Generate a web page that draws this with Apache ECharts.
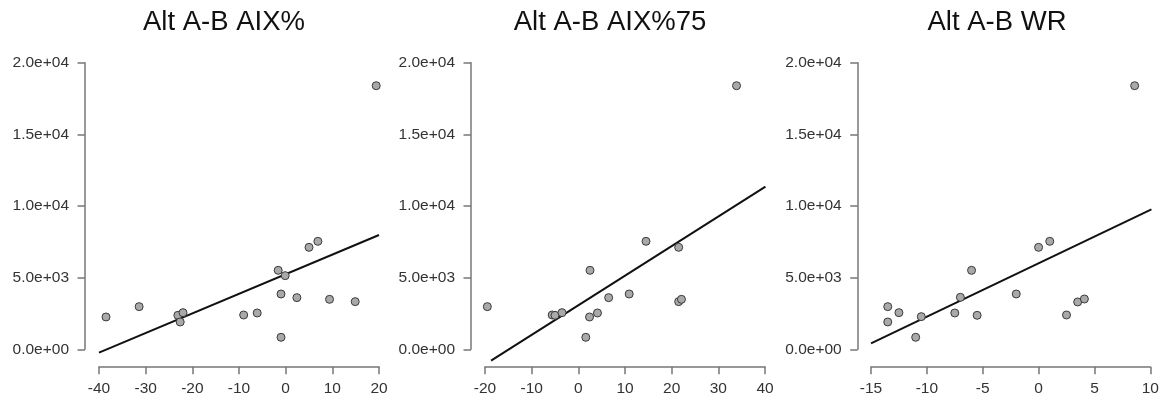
<!DOCTYPE html>
<html>
<head>
<meta charset="utf-8">
<script src="https://cdn.jsdelivr.net/npm/echarts@6/dist/echarts.min.js"></script>
<style>
html,body{margin:0;padding:0;background:#fff;}
#chart{width:1173px;height:404px;}
</style>
</head>
<body>
<div id="chart"></div>
<script>
// ---- data ----
var titles = ['Alt A-B AIX%', 'Alt A-B AIX%75', 'Alt A-B WR'];

var aixX = [-38.5, -31.4, -23.1, -22.0, -22.6, -9.0, -6.1, -1.6, -0.1, -1.0, -1.0, 2.4, 5.0, 6.9, 9.4, 14.9, 19.4];
var aixY = [2256, 2977, 2372, 2558, 1907, 2395, 2535, 5512, 5140, 3860, 837, 3605, 7116, 7535, 3488, 3326, 18395];

var aix75X = [-19.5, -5.6, -5.0, -3.5, 2.5, 2.4, 4.1, 1.6, 6.5, 10.9, 14.5, 21.5, 21.5, 22.1, 33.9];
var aix75Y = [2977, 2395, 2372, 2558, 5512, 2256, 2535, 837, 3605, 3860, 7535, 7116, 3326, 3488, 18395];

var wrX = [-13.5, -13.5, -12.5, -10.5, -11.0, -7.5, -7.0, -6.0, -5.5, -2.0, 0.0, 1.0, 2.5, 3.5, 4.1, 8.6];
var wrY = [2977, 1907, 2558, 2280, 837, 2535, 3628, 5512, 2372, 3860, 7116, 7535, 2395, 3303, 3512, 18395];

// fitted regression lines (end points)
var fitAixX = [-40, 20],      fitAixY = [-233, 7977];
var fitAix75X = [-18.7, 40.1], fitAix75Y = [-791, 11349];
var fitWrX = [-15, 10.1],     fitWrY = [419, 9767];

// axis tick ranges
var xMins = [-40, -20, -15], xMaxs = [20, 40, 10], xSteps = [10, 10, 5];
var yMin = 0, yMax = 20000, yStep = 5000;

// ---- build chart ----
function pairs(xs, ys){ var out=[]; for (var i=0;i<xs.length;i++) out.push([xs[i], ys[i]]); return out; }
function sci(v){
  var s = Number(v).toExponential(1); // e.g. 2.0e+4
  var m = s.split('e');
  var sign = m[1].charAt(0);
  var ex = m[1].slice(1);
  if (ex.length < 2) ex = '0' + ex;
  return m[0] + 'e' + sign + ex;
}

var pointsX = [aixX, aix75X, wrX], pointsY = [aixY, aix75Y, wrY];
var fitsX = [fitAixX, fitAix75X, fitWrX], fitsY = [fitAixY, fitAix75Y, fitWrY];

var gridLefts = [99, 485, 871], gridWidths = [280, 280, 279.3];
var yOffsets = [14, 14, 13.3];
var titleCenters = [219, 605, 992];
var FONT = '"Liberation Sans", Arial, Helvetica, sans-serif';

var grids=[], xAxes=[], yAxes=[], series=[], titleOpts=[];
for (var k=0;k<3;k++){
  grids.push({left: gridLefts[k], top: 62.7, width: gridWidths[k], height: 286.6, containLabel: false});
  xAxes.push({
    type: 'value', gridIndex: k, min: xMins[k], max: xMaxs[k], interval: xSteps[k],
    position: 'bottom', offset: 17.5,
    axisLine: {show: true, onZero: false, lineStyle: {color: '#777', width: 1.5}},
    axisTick: {show: true, inside: false, length: 7.5, lineStyle: {color: '#777', width: 1.5}},
    axisLabel: {color: '#333', fontSize: 15.5, fontFamily: FONT, margin: 14},
    splitLine: {show: false}
  });
  yAxes.push({
    type: 'value', gridIndex: k, min: yMin, max: yMax, interval: yStep,
    position: 'left', offset: yOffsets[k],
    axisLine: {show: true, onZero: false, lineStyle: {color: '#777', width: 1.5}},
    axisTick: {show: true, inside: false, length: 7.5, lineStyle: {color: '#777', width: 1.5}},
    axisLabel: {color: '#333', fontSize: 15.5, fontFamily: FONT, margin: 16, formatter: sci},
    splitLine: {show: false}
  });
  series.push({
    type: 'line', xAxisIndex: k, yAxisIndex: k, clip: false,
    data: pairs(fitsX[k], fitsY[k]), symbol: 'none', silent: true,
    lineStyle: {color: '#111', width: 2}, z: 2
  });
  series.push({
    type: 'scatter', xAxisIndex: k, yAxisIndex: k, clip: false,
    data: pairs(pointsX[k], pointsY[k]), symbol: 'circle', symbolSize: 8,
    itemStyle: {color: '#a9a9a9', borderColor: '#3a3a3a', borderWidth: 1, opacity: 1}, z: 3
  });
  titleOpts.push({
    text: titles[k], left: titleCenters[k], top: 3, textAlign: 'center',
    textStyle: {fontSize: 27.5, fontWeight: 'normal', color: '#111', fontFamily: FONT}
  });
}

var chart = echarts.init(document.getElementById('chart'), null, {renderer: 'canvas'});
chart.setOption({
  backgroundColor: '#fff',
  animation: false,
  title: titleOpts,
  grid: grids,
  xAxis: xAxes,
  yAxis: yAxes,
  series: series
});
</script>
</body>
</html>
